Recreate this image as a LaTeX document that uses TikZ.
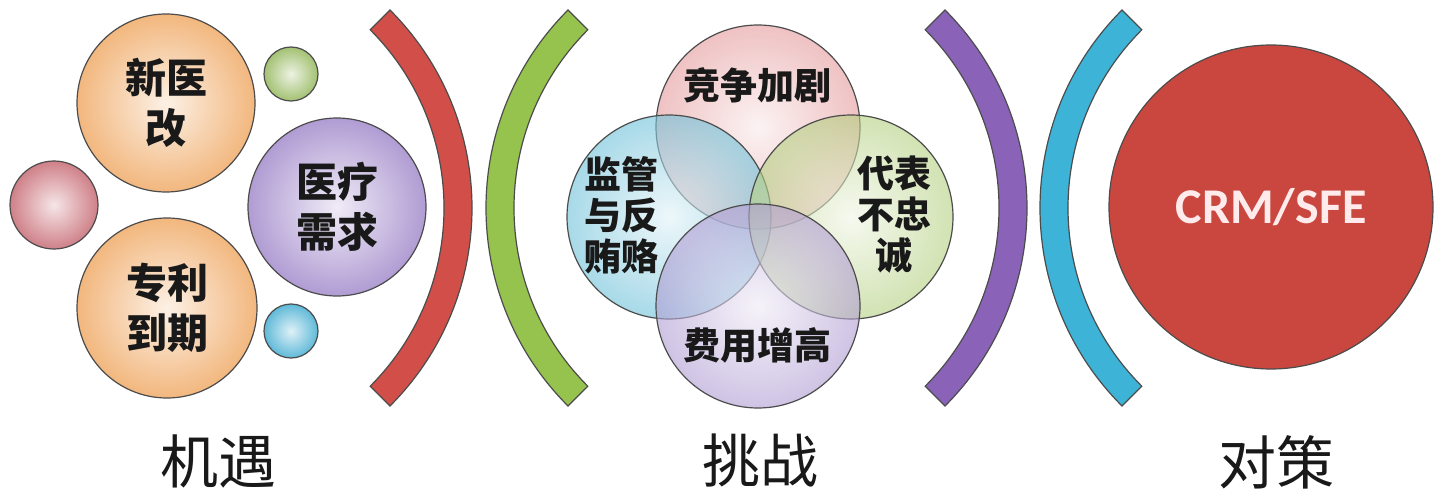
\documentclass[tikz,border=0pt]{standalone}
\usepackage{fontspec}
\newfontfamily\cjk{Noto Sans CJK SC}
\newfontfamily\crmfont{Carlito}
\definecolor{peach}{HTML}{F2B77E}
\definecolor{lilac}{HTML}{B09CD3}
\definecolor{rose}{HTML}{CF8088}
\definecolor{leaf}{HTML}{A3C172}
\definecolor{sky}{HTML}{5FB9D8}
\definecolor{vennpink}{HTML}{E59A9C}
\definecolor{vennblue}{HTML}{6EC1D9}
\definecolor{venngreen}{HTML}{B4D080}
\definecolor{vennlilac}{HTML}{B09CD3}
\definecolor{arcred}{HTML}{D24F49}
\definecolor{arcgreen}{HTML}{96C24E}
\definecolor{arclilac}{HTML}{8A62B8}
\definecolor{arccyan}{HTML}{3DB3D8}
\definecolor{crmred}{HTML}{C9473F}

\begin{document}
\begin{tikzpicture}[x=1pt,y=-1pt,
  bubble/.style={circle,draw=black!70,line width=1.2pt,inner sep=0pt,align=center,text=black!90,
    font=\cjk\bfseries\fontsize{41pt}{50pt}\selectfont},
  venn/.style={circle,draw=black!70,line width=1.2pt,minimum size=204pt,fill opacity=0.6},
  venntext/.style={align=center,text=black!90,font=\cjk\bfseries\fontsize{37pt}{41pt}\selectfont},
  band/.style={draw=black!70,line width=1.2pt},
  caption/.style={text=black!90,font=\cjk\fontsize{58pt}{60pt}\selectfont}]

  \useasboundingbox[fill=white] (0,0) rectangle (1441,492);

  \node[bubble,minimum size=178pt,inner color=peach!20!white,outer color=peach] (reform) at (166,103) {新医\\改};
  \node[bubble,minimum size=180pt,inner color=peach!20!white,outer color=peach] (patent) at (167,308) {专利\\到期};
  \node[bubble,minimum size=178pt,inner color=lilac!20!white,outer color=lilac] (demand) at (337,207) {医疗\\需求};
  \node[bubble,minimum size=88pt,inner color=rose!20!white,outer color=rose] (dotred) at (54,205) {};
  \node[bubble,minimum size=54pt,inner color=leaf!20!white,outer color=leaf] (dotgreen) at (291,74) {};
  \node[bubble,minimum size=54pt,inner color=sky!20!white,outer color=sky] (dotblue) at (291,331) {};

  \draw[band,fill=arcred] (192,208) ++(-45:280) arc[start angle=-45,end angle=45,radius=280]
    -- ++(225:28) arc[start angle=45,end angle=-45,radius=252] -- cycle;
  \draw[band,fill=arcgreen] (766,208) ++(135:280) arc[start angle=135,end angle=225,radius=280]
    -- ++(45:28) arc[start angle=225,end angle=135,radius=252] -- cycle;

  \node[venn,inner color=vennpink!20!white,outer color=vennpink] (compete) at (758,127) {};
  \node[venn,inner color=vennblue!20!white,outer color=vennblue] (regulate) at (669,217) {};
  \node[venn,inner color=venngreen!20!white,outer color=venngreen] (loyalty) at (851,217) {};
  \node[venn,inner color=vennlilac!20!white,outer color=vennlilac] (cost) at (758,306) {};
  \node[venntext] (competetext) at (757,85) {竞争加剧};
  \node[venntext] (regulatetext) at (621,215) {监管\\与反\\贿赂};
  \node[venntext] (loyaltytext) at (894,215) {代表\\不忠\\诚};
  \node[venntext] (costtext) at (757,345) {费用增高};

  \draw[band,fill=arclilac] (747,208) ++(-45:280) arc[start angle=-45,end angle=45,radius=280]
    -- ++(225:28) arc[start angle=45,end angle=-45,radius=252] -- cycle;
  \draw[band,fill=arccyan] (1320,208) ++(135:280) arc[start angle=135,end angle=225,radius=280]
    -- ++(45:28) arc[start angle=225,end angle=135,radius=252] -- cycle;

  \node[circle,draw=black!70,line width=1.2pt,fill=crmred,minimum size=324pt,inner sep=0pt,
    text=red!8!white,font=\crmfont\bfseries\fontsize{50pt}{50pt}\selectfont] (crm) at (1271,207) {CRM/SFE};

  \node[caption] (chance) at (218,461) {机遇};
  \node[caption] (challenge) at (760,461) {挑战};
  \node[caption] (answer) at (1276,462) {对策};

\end{tikzpicture}
\end{document}
